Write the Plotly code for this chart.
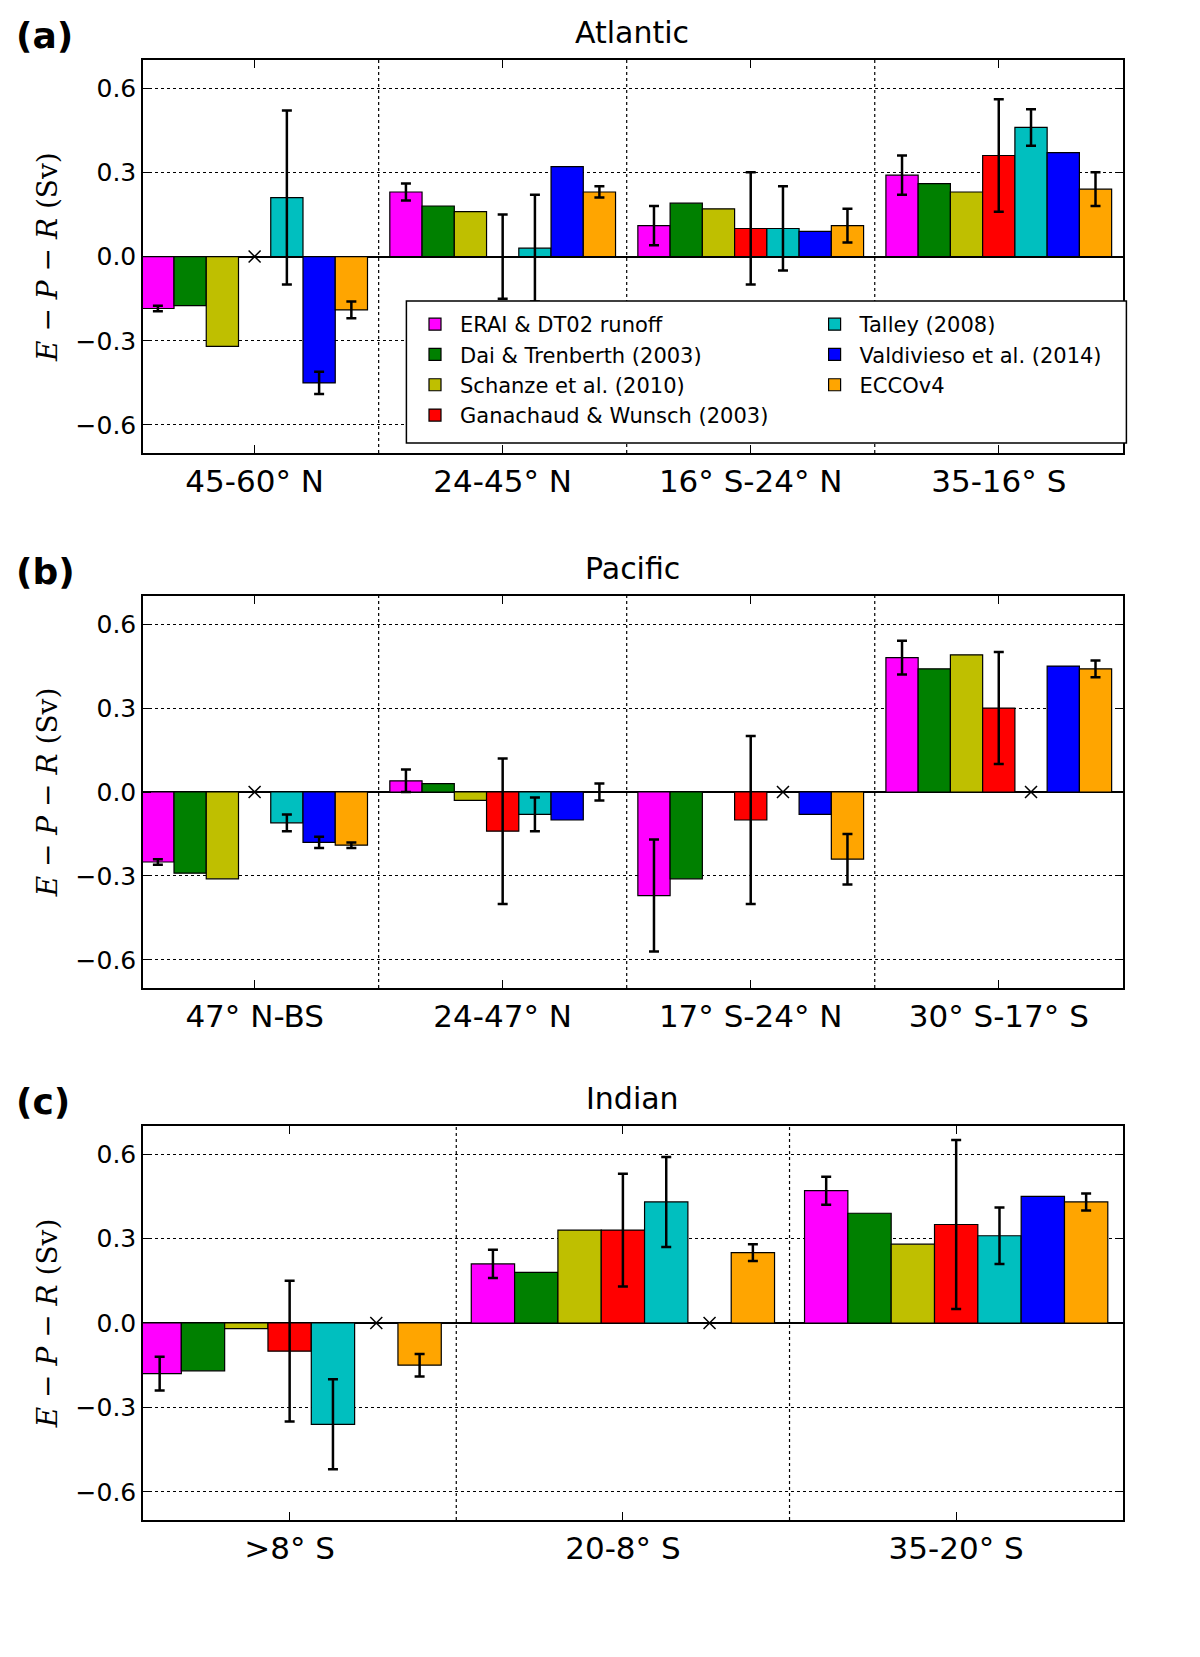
import plotly.graph_objects as go

# series names / colours
series = ['ERAI & DT02 runoff', 'Dai & Trenberth (2003)', 'Schanze et al. (2010)',
          'Ganachaud & Wunsch (2003)', 'Talley (2008)', 'Valdivieso et al. (2014)', 'ECCOv4']
colors = ['#FF00FF', '#008000', '#BFBF00', '#FF0000', '#00BFBF', '#0000FF', '#FFA500']

# None = no value, 'x' = missing value marked with a cross
atl_labels = ['45-60° N', '24-45° N', '16° S-24° N', '35-16° S']
atl_vals = [
    [-0.185, 0.23, 0.11, 0.29],
    [-0.175, 0.18, 0.19, 0.26],
    [-0.32, 0.16, 0.17, 0.23],
    ['x', 0.0, 0.10, 0.36],
    [0.21, 0.03, 0.10, 0.46],
    [-0.45, 0.32, 0.09, 0.37],
    [-0.19, 0.23, 0.11, 0.24],
]
atl_err = [
    [0.01, 0.03, 0.07, 0.07],
    [None, None, None, None],
    [None, None, None, None],
    [None, 0.15, 0.20, 0.20],
    [0.31, 0.19, 0.15, 0.065],
    [0.04, None, None, None],
    [0.03, 0.02, 0.06, 0.06],
]

pac_labels = ['47° N-BS', '24-47° N', '17° S-24° N', '30° S-17° S']
pac_vals = [
    [-0.25, 0.04, -0.37, 0.48],
    [-0.29, 0.03, -0.31, 0.44],
    [-0.31, -0.03, None, 0.49],
    ['x', -0.14, -0.10, 0.30],
    [-0.11, -0.08, 'x', 'x'],
    [-0.18, -0.10, -0.08, 0.45],
    [-0.19, 0.0, -0.24, 0.44],
]
pac_err = [
    [0.01, 0.04, 0.20, 0.06],
    [None, None, None, None],
    [None, None, None, None],
    [None, 0.26, 0.30, 0.20],
    [0.03, 0.06, None, None],
    [0.02, None, None, None],
    [0.01, 0.03, 0.09, 0.03],
]

ind_labels = ['>8° S', '20-8° S', '35-20° S']
ind_vals = [
    [-0.18, 0.21, 0.47],
    [-0.17, 0.18, 0.39],
    [-0.02, 0.33, 0.28],
    [-0.10, 0.33, 0.35],
    [-0.36, 0.43, 0.31],
    ['x', 'x', 0.45],
    [-0.15, 0.25, 0.43],
]
ind_err = [
    [0.06, 0.05, 0.05],
    [None, None, None],
    [None, None, None],
    [0.25, 0.20, 0.30],
    [0.16, 0.16, 0.10],
    [None, None, None],
    [0.04, 0.03, 0.03],
]

panels = [
    ('Atlantic', '(a)', atl_labels, atl_vals, atl_err, [0.7314, 0.9686], [-0.45, 3.5]),
    ('Pacific', '(b)', pac_labels, pac_vals, pac_err, [0.4086, 0.6451], [-0.45, 3.5]),
    ('Indian', '(c)', ind_labels, ind_vals, ind_err, [0.0875, 0.3253], [-0.44, 2.5]),
]

W = 0.13

fig = go.Figure()
shapes = []
annotations = []
for p, (title, tag, labels, vals, errs, dom, xr) in enumerate(panels):
    ax = '' if p == 0 else str(p + 1)
    xref, yref = 'x' + ax, 'y' + ax
    ngrp = len(labels)
    for i in range(len(series)):
        xs, ys, cx, ex, ey, ee = [], [], [], [], [], []
        for g in range(ngrp):
            v = vals[i][g]
            pos = g + (i - 3) * W
            if v == 'x':
                cx.append(pos)
            elif v is not None:
                xs.append(pos)
                ys.append(v)
                if errs[i][g] is not None:
                    ex.append(pos)
                    ey.append(v)
                    ee.append(errs[i][g])
        fig.add_trace(go.Bar(
            x=xs, y=ys, width=W, name=series[i], marker_color=colors[i],
            marker_line=dict(color='black', width=1.2),
            showlegend=(p == 0), legend='legend' if i < 4 else 'legend2',
            legendgroup=series[i], xaxis=xref, yaxis=yref))
        if ex:
            fig.add_trace(go.Scatter(
                x=ex, y=ey, mode='markers', marker=dict(size=1, color='black', opacity=0),
                error_y=dict(type='data', array=ee, color='black', thickness=2.5, width=5),
                showlegend=False, hoverinfo='skip', xaxis=xref, yaxis=yref))
        if cx:
            fig.add_trace(go.Scatter(
                x=cx, y=[0] * len(cx), mode='markers', showlegend=False,
                marker=dict(symbol='x-thin', size=12, line=dict(color='black', width=1.5)),
                xaxis=xref, yaxis=yref))
    for d in range(ngrp - 1):
        shapes.append(dict(type='line', xref=xref, yref=yref + ' domain', x0=d + 0.5, x1=d + 0.5,
                           y0=0, y1=1, line=dict(color='black', width=1.2, dash='dot')))
    axis_common = dict(showline=True, linecolor='black', linewidth=1.5, mirror='ticks',
                       ticks='inside', tickcolor='black', ticklen=8)
    fig.layout['xaxis' + ax] = dict(
        domain=[0.1125, 0.929], range=xr, tickvals=list(range(ngrp)), ticktext=labels,
        showgrid=False, zeroline=False, anchor=yref,
        tickfont=dict(size=31, family='DejaVu Sans', color='black'), **axis_common)
    fig.layout['yaxis' + ax] = dict(
        domain=dom, range=[-0.7, 0.7], tickvals=[-0.6, -0.3, 0, 0.3, 0.6],
        ticktext=['−0.6', '−0.3', '0.0', '0.3', '0.6'], anchor=xref,
        showgrid=True, gridcolor='black', griddash='dot', gridwidth=1,
        zeroline=True, zerolinecolor='black', zerolinewidth=1.5,
        title=dict(text='<i>E</i> − <i>P</i> − <i>R</i> (Sv)', standoff=10,
                   font=dict(size=28, family='DejaVu Serif', color='black')),
        tickfont=dict(size=25, family='DejaVu Sans', color='black'), **axis_common)
    annotations.append(dict(text=title, xref='paper', yref='paper', x=0.52, y=dom[1],
                            yanchor='bottom', yshift=8, showarrow=False,
                            font=dict(size=30, family='DejaVu Sans', color='black')))
    annotations.append(dict(text='<b>' + tag + '</b>', xref='paper', yref='paper', x=0.005,
                            y=dom[1], xanchor='left', yanchor='bottom', yshift=2, showarrow=False,
                            font=dict(size=36, family='DejaVu Sans', color='black')))

# legend frame spanning both legend columns
shapes.append(dict(type='rect', xref='paper', yref='paper', x0=0.332, x1=0.932,
                   y0=1 - 435 / 1657, y1=1 - 293 / 1657,
                   line=dict(color='black', width=1.5), fillcolor='white', layer='above'))

leg_font = dict(size=21, family='DejaVu Sans', color='black')
fig.update_layout(
    width=1200, height=1657, margin=dict(l=0, r=0, t=0, b=0),
    plot_bgcolor='white', paper_bgcolor='white', barmode='overlay',
    shapes=shapes, annotations=annotations,
    legend=dict(x=0.335, y=1 - 296 / 1657, xanchor='left', yanchor='top',
                bgcolor='rgba(0,0,0,0)', borderwidth=0, tracegroupgap=0,
                itemwidth=40, font=leg_font),
    legend2=dict(x=0.668, y=1 - 296 / 1657, xanchor='left', yanchor='top',
                 bgcolor='rgba(0,0,0,0)', borderwidth=0, tracegroupgap=0,
                 itemwidth=40, font=leg_font),
)

fig.write_html('out.html')
